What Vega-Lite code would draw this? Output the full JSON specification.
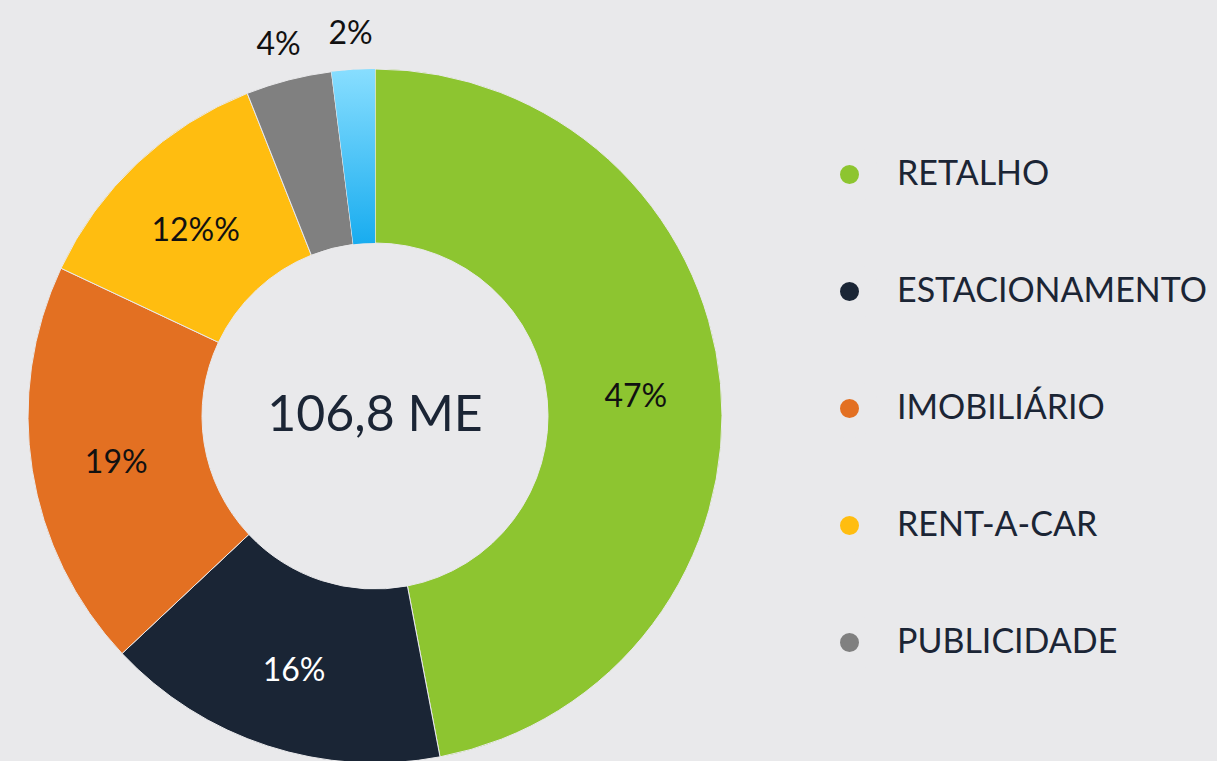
{
  "$schema": "https://vega.github.io/schema/vega-lite/v6.json",
  "width": 750,
  "height": 832,
  "autosize": "none",
  "padding": {"left": 0, "top": 0, "right": 467, "bottom": -71},
  "background": "#E9E9EB",
  "config": {
    "view": {"stroke": null},
    "legend": {
      "symbolType": "circle",
      "symbolSize": 1521,
      "symbolStrokeWidth": 20,
      "symbolFillColor": "#FFFFFF"
    }
  },
  "datasets": {
    "slices": [
      {"cat": "RETALHO", "v": 47, "label": "47%", "ord": 1},
      {"cat": "ESTACIONAMENTO", "v": 16, "label": "16%", "ord": 2},
      {"cat": "IMOBILIÁRIO", "v": 19, "label": "19%", "ord": 3},
      {"cat": "RENT-A-CAR", "v": 12, "label": "12%%", "ord": 4},
      {"cat": "PUBLICIDADE", "v": 4, "label": "4%", "ord": 5},
      {"cat": "OUTROS", "v": 2, "label": "2%", "ord": 6}
    ],
    "center": [{"t": "106,8 ME"}]
  },
  "layer": [
    {
      "data": {"name": "slices"},
      "mark": {"type": "arc", "outerRadius": 347, "innerRadius": 173, "stroke": "#E9E9EB", "strokeWidth": 1},
      "encoding": {
        "theta": {"field": "v", "type": "quantitative", "stack": true},
        "order": {"field": "ord", "type": "quantitative"},
        "color": {
          "field": "cat",
          "type": "nominal",
          "scale": {
            "domain": ["RETALHO", "ESTACIONAMENTO", "IMOBILIÁRIO", "RENT-A-CAR", "PUBLICIDADE", "OUTROS"],
            "range": ["#8DC530", "#1A2535", "#E37022", "#FFBD10", "#808080", "#4DC3F5"]
          },
          "legend": {
            "values": ["RETALHO", "ESTACIONAMENTO", "IMOBILIÁRIO", "RENT-A-CAR", "PUBLICIDADE"],
            "orient": "none",
            "legendX": 820,
            "legendY": 145,
            "title": null,
            "padding": 0,
            "symbolType": "circle",
            "symbolSize": 1521,
            "symbolStrokeWidth": 20,
            "symbolFillColor": "#FFFFFF",
            "labelFont": "Lato",
            "labelFontSize": 34,
            "labelColor": "#1B2535",
            "labelOffset": 18,
            "rowPadding": -2,
            "labelLimit": 500,
            "encode": {
              "symbols": {
                "update": {
                  "fill": {"value": "#FFFFFF"},
                  "fillOpacity": {"value": 1},
                  "stroke": {"scale": "color", "field": "value"},
                  "strokeWidth": {"value": 20},
                  "size": {"value": 1521}
                }
              }
            }
          }
        }
      }
    },
    {
      "data": {"name": "slices"},
      "mark": {"type": "arc", "outerRadius": 347, "innerRadius": 173},
      "encoding": {
        "theta": {"field": "v", "type": "quantitative", "stack": true},
        "order": {"field": "ord", "type": "quantitative"},
        "fill": {
          "condition": {
            "test": "datum.cat === 'OUTROS'",
            "value": {
              "gradient": "linear",
              "x1": 0, "y1": 0, "x2": 0, "y2": 1,
              "stops": [
                {"offset": 0, "color": "#88DEFF"},
                {"offset": 1, "color": "#18ACEF"}
              ]
            }
          },
          "value": "transparent"
        }
      }
    },
    {
      "data": {"name": "slices"},
      "mark": {"type": "text", "radius": 262, "font": "Lato", "fontSize": 32, "align": "center", "baseline": "middle", "dy": 6},
      "encoding": {
        "theta": {"field": "v", "type": "quantitative", "stack": true},
        "order": {"field": "ord", "type": "quantitative"},
        "text": {"condition": {"test": "datum.v < 5", "value": ""}, "field": "label"},
        "color": {"condition": {"test": "datum.cat === 'ESTACIONAMENTO'", "value": "#FFFFFF"}, "value": "#111111"}
      }
    },
    {
      "data": {"name": "slices"},
      "mark": {"type": "text", "radius": 388, "font": "Lato", "fontSize": 32, "align": "center", "baseline": "middle", "color": "#111111", "dy": 5},
      "encoding": {
        "theta": {"field": "v", "type": "quantitative", "stack": true},
        "order": {"field": "ord", "type": "quantitative"},
        "text": {"condition": {"test": "datum.v >= 5", "value": ""}, "field": "label"}
      }
    },
    {
      "data": {"name": "center"},
      "mark": {"type": "text", "font": "Lato", "fontSize": 50, "align": "center", "baseline": "middle", "color": "#1B2535"},
      "encoding": {"text": {"field": "t"}}
    }
  ]
}
